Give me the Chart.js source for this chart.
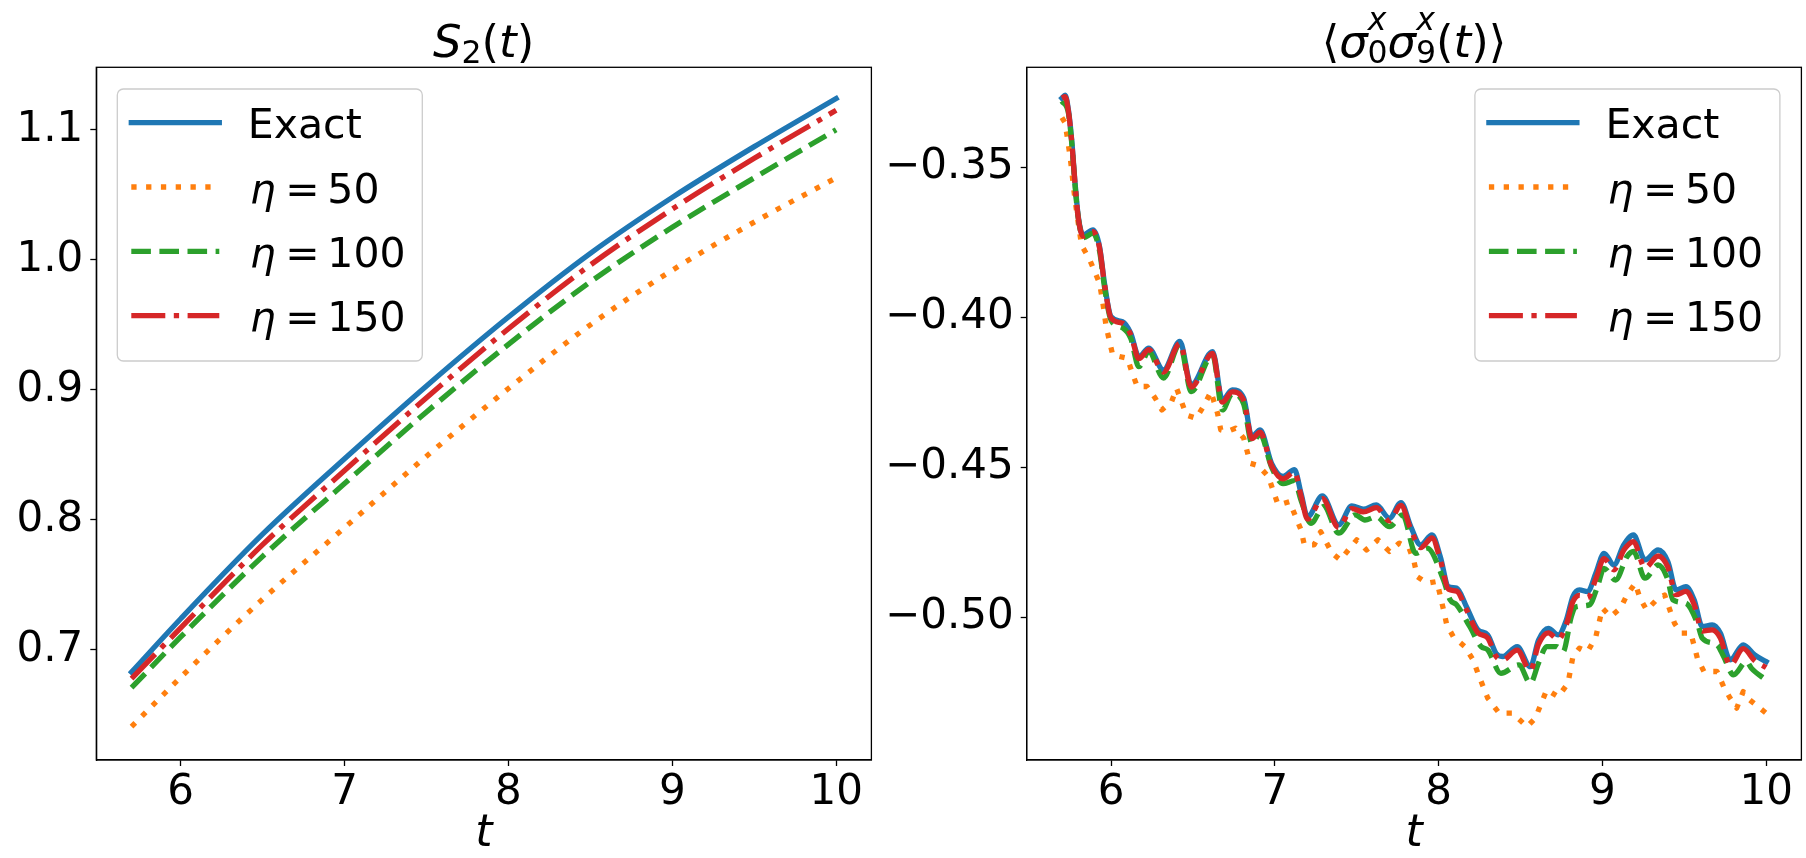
<!DOCTYPE html>
<html>
<head>
<meta charset="utf-8">
<script src="https://cdn.jsdelivr.net/npm/chart.js@4.4.1/dist/chart.umd.min.js"></script>
<style>
  html, body { margin: 0; padding: 0; background: #fff; }
  body { width: 1806px; height: 858px; position: relative; overflow: hidden; font-family: 'DejaVu Sans'; }
  canvas { position: absolute; top: 0; }
  .title { position: absolute; top: 18.6px; font-size: 45px; line-height: 45px; white-space: nowrap;
           transform: translateX(-50%); color: #000; }
  .title .sb, .title .sp { font-size: 0.7em; line-height: 0; position: relative; }
  .title .sb { top: 0.21em; }
  .title .sp { top: -0.83em; }
</style>
</head>
<body>
<canvas id="left" width="880" height="858" style="left:0;width:880px;height:858px"></canvas>
<canvas id="right" width="926" height="858" style="left:880px;width:926px;height:858px"></canvas>
<div class="title" style="left:483.6px"><i>S</i><span class="sb">2</span>(<i>t</i>)</div>
<div class="title" style="left:1414px">⟨<i>σ</i><span class="sp"><i>x</i></span><span class="sb" style="margin-left:-0.6em">0</span><i>σ</i><span class="sp"><i>x</i></span><span class="sb" style="margin-left:-0.6em">9</span>(<i>t</i>)⟩</div>
<script>
// tick labels
const xTicks = [6, 7, 8, 9, 10];
const leftYTicks = [0.7, 0.8, 0.9, 1.0, 1.1];
const rightYTicks = [-0.50, -0.45, -0.40, -0.35];

// legend / series names
const seriesLabels = ['Exact', 'η = 50', 'η = 100', 'η = 150'];

// left panel: S_2(t)
const leftT = [5.7, 6.0, 6.5, 7.0, 7.5, 8.0, 8.5, 9.0, 9.5, 10.0];
const leftExact = [0.683, 0.724, 0.789, 0.847, 0.903, 0.956, 1.005, 1.048, 1.087, 1.124];
const leftEta50 = [0.641, 0.679, 0.739, 0.794, 0.849, 0.901, 0.950, 0.992, 1.029, 1.063];
const leftEta100 = [0.671, 0.710, 0.772, 0.828, 0.883, 0.935, 0.983, 1.025, 1.063, 1.100];
const leftEta150 = [0.678, 0.717, 0.781, 0.838, 0.894, 0.947, 0.996, 1.039, 1.078, 1.115];

// right panel: <sigma_0^x sigma_9^x(t)>
const exactT = [5.70,5.72,5.74,5.76,5.78,5.80,5.83,5.89,5.93,5.96,6.00,6.07,6.12,6.17,6.23,6.32,6.42,6.49,6.62,6.68,
  6.74,6.81,6.86,6.91,6.98,7.05,7.12,7.16,7.20,7.29,7.39,7.47,7.54,7.62,7.70,7.77,7.83,7.89,7.96,8.01,
  8.06,8.11,8.17,8.24,8.30,8.35,8.39,8.48,8.56,8.61,8.67,8.73,8.78,8.82,8.86,8.91,8.96,9.01,9.07,9.13,
  9.19,9.26,9.34,9.40,9.45,9.51,9.56,9.61,9.67,9.72,9.78,9.86,9.93,10.00];
const exactV = [-0.327,-0.326,-0.331,-0.341,-0.355,-0.3665,-0.3726,-0.3709,-0.3765,-0.3887,-0.3998,-0.4015,-0.4053,-0.4131,-0.4103,
  -0.4176,-0.4081,-0.4226,-0.4115,-0.4276,-0.4242,-0.427,-0.4398,-0.4376,-0.4487,-0.4531,-0.4508,-0.4587,-0.4665,-0.4596,
  -0.4692,-0.4629,-0.464,-0.4626,-0.467,-0.4618,-0.4698,-0.4759,-0.4726,-0.4798,-0.4898,-0.4903,-0.4965,-0.5042,-0.5059,
  -0.512,-0.5131,-0.5098,-0.5165,-0.5076,-0.5037,-0.5059,-0.5009,-0.4931,-0.4909,-0.4915,-0.4853,-0.4787,-0.4826,-0.4759,
  -0.4726,-0.4809,-0.4776,-0.4815,-0.4909,-0.4898,-0.4942,-0.5031,-0.5026,-0.5053,-0.5142,-0.5092,-0.5126,-0.5148];
const eta150V = [-0.327,-0.3265,-0.3315,-0.3415,-0.3555,-0.367,-0.373,-0.3715,-0.377,-0.389,-0.4003,-0.402,-0.4058,-0.4138,-0.4108,
  -0.4183,-0.4087,-0.4233,-0.4121,-0.4283,-0.4249,-0.4277,-0.4405,-0.4383,-0.4495,-0.4539,-0.4516,-0.4596,-0.4673,-0.4605,
  -0.4701,-0.4638,-0.4649,-0.4635,-0.4679,-0.4627,-0.4707,-0.4768,-0.4736,-0.4808,-0.4907,-0.4913,-0.4975,-0.5052,-0.5069,
  -0.513,-0.5143,-0.511,-0.5178,-0.509,-0.5052,-0.5074,-0.5025,-0.4948,-0.4927,-0.4935,-0.4872,-0.4805,-0.4842,-0.4777,
  -0.4748,-0.4835,-0.4796,-0.4833,-0.4925,-0.4914,-0.4958,-0.5046,-0.5042,-0.5069,-0.516,-0.5105,-0.5145,-0.5168];
const eta100T = [5.70,5.74,5.76,5.78,5.80,5.83,5.89,5.93,5.96,6.00,6.07,6.12,6.17,6.23,6.32,6.42,6.49,6.62,6.68,6.74,
  6.81,6.86,6.91,6.98,7.05,7.12,7.16,7.22,7.30,7.39,7.49,7.55,7.62,7.70,7.78,7.86,7.93,8.03,8.07,8.11,
  8.19,8.26,8.30,8.38,8.49,8.56,8.61,8.66,8.72,8.76,8.81,8.84,8.92,8.97,9.01,9.08,9.15,9.19,9.26,9.34,
  9.40,9.43,9.51,9.58,9.61,9.70,9.74,9.80,9.88,9.91,10.00];
const eta100V = [-0.328,-0.332,-0.342,-0.356,-0.367,-0.3735,-0.372,-0.378,-0.390,-0.401,-0.4035,-0.407,-0.4165,-0.4115,-0.4203,
  -0.409,-0.4248,-0.4125,-0.4309,-0.4255,-0.429,-0.442,-0.439,-0.450,-0.4555,-0.4545,-0.461,-0.4687,-0.4631,-0.472,
  -0.4659,-0.4676,-0.4665,-0.4698,-0.4659,-0.4787,-0.477,-0.4876,-0.4942,-0.4959,-0.5031,-0.5098,-0.5109,-0.5187,-0.5159,
  -0.522,-0.5153,-0.5098,-0.5098,-0.5115,-0.4998,-0.4965,-0.4959,-0.4898,-0.4837,-0.4876,-0.4798,-0.4781,-0.487,-0.4826,
  -0.4876,-0.4942,-0.4953,-0.502,-0.507,-0.5092,-0.5131,-0.5192,-0.5148,-0.517,-0.521];
const eta50T = [5.70,5.72,5.75,5.78,5.80,5.82,5.87,5.93,5.95,5.97,6.01,6.10,6.13,6.16,6.22,6.27,6.31,6.37,6.40,6.46,
  6.52,6.57,6.61,6.65,6.67,6.71,6.76,6.81,6.85,6.90,6.96,7.02,7.09,7.16,7.18,7.24,7.28,7.35,7.40,7.50,
  7.56,7.63,7.70,7.76,7.82,7.85,7.87,7.93,7.99,8.03,8.05,8.09,8.16,8.21,8.24,8.30,8.37,8.45,8.54,8.59,
  8.66,8.73,8.79,8.82,8.86,8.91,8.96,9.00,9.05,9.11,9.15,9.20,9.23,9.27,9.34,9.38,9.44,9.48,9.54,9.58,
  9.62,9.70,9.74,9.78,9.82,9.86,9.90,10.00];
const eta50V = [-0.3335,-0.3353,-0.3465,-0.3609,-0.3687,-0.376,-0.3809,-0.3887,-0.3953,-0.4031,-0.4126,-0.4137,-0.4187,-0.4231,-0.4231,
  -0.427,-0.4309,-0.4281,-0.4237,-0.4326,-0.4337,-0.4292,-0.4248,-0.432,-0.4376,-0.4381,-0.437,-0.4403,-0.4487,-0.4495,
  -0.4531,-0.4626,-0.4615,-0.4709,-0.4759,-0.4759,-0.4715,-0.4787,-0.4809,-0.4742,-0.4776,-0.4742,-0.4781,-0.4753,-0.477,
  -0.4815,-0.4865,-0.4887,-0.4881,-0.4976,-0.5026,-0.5065,-0.5098,-0.5142,-0.5187,-0.527,-0.532,-0.532,-0.5365,-0.5337,
  -0.5242,-0.5265,-0.522,-0.5131,-0.5103,-0.5115,-0.5065,-0.497,-0.4998,-0.497,-0.4926,-0.4887,-0.4937,-0.4976,-0.4937,
  -0.4926,-0.502,-0.5053,-0.5053,-0.5137,-0.5181,-0.5181,-0.5231,-0.527,-0.5303,-0.5248,-0.5276,-0.532];

const colors = ['#1f77b4', '#ff7f0e', '#2ca02c', '#d62728'];
const LW = 5.3;
const dashes = [[], [LW, 9.5], [19.6, 8.5], [34, 8.5, LW, 8.5]];
const FONT = 'DejaVu Sans';

const pts = (ts, vs) => ts.map((t, i) => ({ x: t, y: vs[i] }));

function makeSet(i, data, smooth) {
    return {
        label: seriesLabels[i],
        data: data,
        borderColor: colors[i],
        borderWidth: LW,
        borderDash: dashes[i],
        borderCapStyle: i === 0 ? 'square' : 'butt',
        borderJoinStyle: 'round',
        pointRadius: 0,
        fill: false,
        tension: smooth ? 0.4 : 0,
        cubicInterpolationMode: smooth ? 'monotone' : 'default',
        order: 4 - i // Exact at the bottom, eta=150 on top
    };
}

// black box around the plot area, like matplotlib spines
const framePlugin = {
    id: 'frame',
    afterDraw(chart) {
        const { ctx, chartArea: a } = chart;
        ctx.save();
        ctx.strokeStyle = '#000';
        ctx.lineWidth = 1.3;
        ctx.strokeRect(a.left, a.top, a.right - a.left, a.bottom - a.top);
        ctx.restore();
    }
};

// legend box inside the plot, drawn over the lines
const mplLegend = {
    id: 'mplLegend',
    afterDraw(chart, args, opts) {
        const { ctx, chartArea: a } = chart;
        const boxW = 305, boxH = 272;
        const x0 = opts.align === 'right' ? a.right - 21.5 - boxW : a.left + 21;
        const y0 = a.top + 21.7;
        ctx.save();
        ctx.beginPath();
        ctx.roundRect(x0, y0, boxW, boxH, 6);
        ctx.fillStyle = 'rgba(255,255,255,0.8)';
        ctx.fill();
        ctx.strokeStyle = '#cccccc';
        ctx.lineWidth = 1.3;
        ctx.stroke();

        chart.data.datasets.forEach((ds, i) => {
            const y = y0 + 33.7 + i * 64.3;
            ctx.beginPath();
            ctx.setLineDash(ds.borderDash);
            ctx.lineCap = ds.borderCapStyle;
            ctx.strokeStyle = ds.borderColor;
            ctx.lineWidth = LW;
            ctx.moveTo(x0 + 14, y);
            ctx.lineTo(x0 + 102, y);
            ctx.stroke();
            ctx.setLineDash([]);

            const tx = x0 + 130.5, ty = y + 15.5;
            ctx.fillStyle = '#000';
            ctx.textBaseline = 'alphabetic';
            ctx.textAlign = 'left';
            const lab = ds.label;
            if (lab.startsWith('η')) {
                const parts = lab.split(' = ');
                ctx.font = 'italic 41px "' + FONT + '"';
                ctx.fillText('η', tx + 2, ty);
                ctx.font = '41px "' + FONT + '"';
                ctx.fillText('=', tx + 37.5, ty);
                ctx.fillText(parts[1], tx + 79.5, ty);
            } else {
                ctx.font = '41px "' + FONT + '"';
                ctx.fillText(lab, tx, ty);
            }
        });
        ctx.restore();
    }
};

function axisCommon() {
    return {
        grid: { drawOnChartArea: false, drawTicks: true, tickLength: 6, tickWidth: 1.3, tickColor: '#000' },
        border: { display: true, color: '#000', width: 1.3 }
    };
}

function makeChart(id, datasets, yMin, yMax, yTicks, yFmt, yWidth, padRight, legendAlign) {
    return new Chart(document.getElementById(id), {
        type: 'line',
        data: { datasets: datasets },
        options: {
            responsive: false,
            devicePixelRatio: 1,
            animation: false,
            layout: { padding: { top: 67.3, right: padRight, left: 0, bottom: 0 } },
            plugins: {
                legend: { display: false },
                tooltip: { enabled: false },
                mplLegend: { align: legendAlign }
            },
            scales: {
                x: Object.assign(axisCommon(), {
                    type: 'linear',
                    min: 5.485,
                    max: 10.215,
                    afterBuildTicks: s => { s.ticks = xTicks.map(v => ({ value: v })); },
                    afterFit: s => { s.height = 98; },
                    ticks: {
                        font: { family: FONT, size: 42 },
                        color: '#000',
                        padding: 2,
                        maxRotation: 0,
                        autoSkip: false,
                        callback: v => String(v)
                    },
                    title: {
                        display: true,
                        text: 't',
                        color: '#000',
                        font: { family: FONT, size: 44, style: 'italic', lineHeight: 1 },
                        padding: { top: 0, bottom: 1.5 }
                    }
                }),
                y: Object.assign(axisCommon(), {
                    type: 'linear',
                    min: yMin,
                    max: yMax,
                    afterBuildTicks: s => { s.ticks = yTicks.map(v => ({ value: v })); },
                    afterFit: s => { s.width = yWidth; },
                    ticks: {
                        font: { family: FONT, size: 42 },
                        color: '#000',
                        padding: 7,
                        autoSkip: false,
                        callback: yFmt
                    }
                })
            }
        },
        plugins: [framePlugin, mplLegend]
    });
}

makeChart('left', [
    makeSet(0, pts(leftT, leftExact), true),
    makeSet(1, pts(leftT, leftEta50), true),
    makeSet(2, pts(leftT, leftEta100), true),
    makeSet(3, pts(leftT, leftEta150), true)
], 0.6154, 1.148, leftYTicks, v => v.toFixed(1), 96.3, 8.6, 'left');

makeChart('right', [
    makeSet(0, pts(exactT, exactV), true),
    makeSet(1, pts(eta50T, eta50V), false),
    makeSet(2, pts(eta100T, eta100V), true),
    makeSet(3, pts(exactT, eta150V), true)
], -0.5476, -0.3167, rightYTicks, v => v.toFixed(2).replace('-', '\u2212'), 146.7, 4.6, 'right');
</script>
</body>
</html>
